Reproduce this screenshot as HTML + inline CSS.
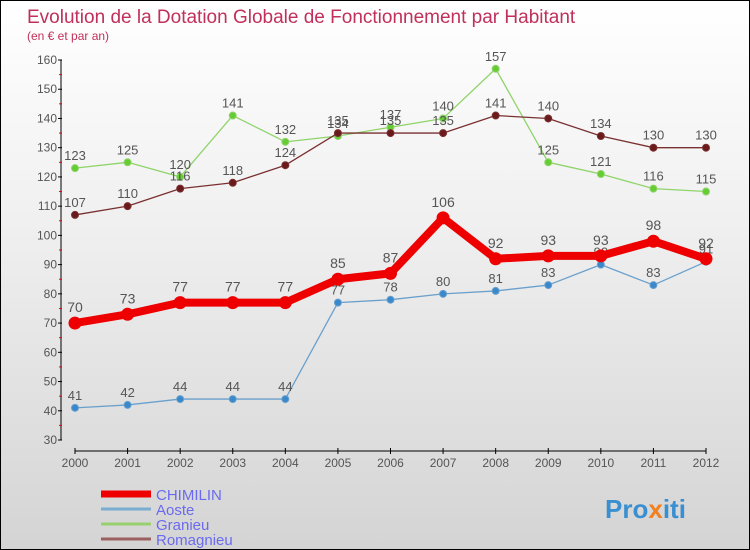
<!DOCTYPE html>
<html><head><meta charset="utf-8"><style>
html,body{margin:0;padding:0}
body{width:750px;height:550px;overflow:hidden;font-family:"Liberation Sans",sans-serif}
#wrap{position:relative;width:748px;height:548px;border:1px solid #000;background:linear-gradient(#ffffff 0%,#f0f0f0 40%,#d4d4d4 100%)}
</style></head><body>
<div id="wrap">
<svg id="chart" width="748" height="548" style="position:absolute;left:0;top:0">
<text x="26" y="22" font-size="19" fill="#c0305a">Evolution de la Dotation Globale de Fonctionnement par Habitant</text>
<text x="26" y="39" font-size="12" fill="#c0305a">(en € et par an)</text>
<text x="604" y="517" font-size="26" font-weight="bold" fill="#3a8fd0">Pro<tspan fill="#f08020">x</tspan><tspan fill="#3a8fd0">iti</tspan></text>
</svg>
</div>
<script>
const years=["2000","2001","2002","2003","2004","2005","2006","2007","2008","2009","2010","2011","2012"];
const yTicks=[30,40,50,60,70,80,90,100,110,120,130,140,150,160];
const chimilin=[70,73,77,77,77,85,87,106,92,93,93,98,92];
const aoste=[41,42,44,44,44,77,78,80,81,83,90,83,91];
const granieu=[123,125,120,141,132,134,137,140,157,125,121,116,115];
const romagnieu=[107,110,116,118,124,135,135,135,141,140,134,130,130];
const seriesNames=["CHIMILIN","Aoste","Granieu","Romagnieu"];

const svg=document.getElementById('chart');
const NS='http://www.w3.org/2000/svg';
function mk(t,a){const e=document.createElementNS(NS,t);for(const k in a)e.setAttribute(k,a[k]);return e;}
const x0=74,x1=705,yMin=30,yMax=160,py0=439,py1=59;
const xs=i=>x0+i*(x1-x0)/(years.length-1);
const ys=v=>py0-(v-yMin)*(py0-py1)/(yMax-yMin);

const ya=mk('line',{x1:60,y1:py1,x2:60,y2:py0,stroke:'#000'});


svg.appendChild(ya);
yTicks.forEach((v,i)=>{
  const t=mk('line',{x1:57,y1:ys(v),x2:61,y2:ys(v),stroke:'#000'});
  
  
  svg.appendChild(t);
  const l=mk('text',{x:56,y:ys(v)+4,'font-size':12,fill:'#555','text-anchor':'end'});
  l.textContent=v;
  
  
  svg.appendChild(l);
  if(i<yTicks.length-1){
    const m=mk('line',{x1:58,y1:ys(v+5),x2:61,y2:ys(v+5),stroke:'#e00'});
    
    
    svg.appendChild(m);
  }
});
const xa=mk('line',{x1:xs(0),y1:450,x2:xs(years.length-1),y2:450,stroke:'#000'});


svg.appendChild(xa);
years.forEach((y,i)=>{
  const t=mk('line',{x1:xs(i),y1:447,x2:xs(i),y2:453,stroke:'#000'});
  
  
  svg.appendChild(t);
  const l=mk('text',{x:xs(i),y:466,'font-size':12,fill:'#555','text-anchor':'middle'});
  l.textContent=y;
  
  
  svg.appendChild(l);
});

function drawSeries(data,color,width,dotFill,r,name,fs){
  const pts=data.map((v,i)=>xs(i)+','+ys(v)).join(' ');
  const pl=mk('polyline',{points:pts,fill:'none',stroke:color,'stroke-width':width,'stroke-linejoin':'round'});
  
  
  svg.appendChild(pl);
  data.forEach((v,i)=>{
    const c=mk('circle',{cx:xs(i),cy:ys(v),r:r,fill:dotFill,stroke:color,'stroke-width':1});
    
    
    svg.appendChild(c);
    const l=mk('text',{x:xs(i),y:ys(v)-(fs>13?11:8),'font-size':fs,fill:'#555','text-anchor':'middle'});
    l.textContent=v;
    
    
    svg.appendChild(l);
  });
}
drawSeries(granieu,'#8fd46a',1.3,'#66cc33',3.5,'granieu',13);
drawSeries(romagnieu,'#7a3030',1.3,'#6a1a1a',3.5,'romagnieu',13);
drawSeries(aoste,'#6aa0cc',1.3,'#3a88cc',3.5,'aoste',13);
drawSeries(chimilin,'#ee0000',8,'#ee0000',6,'chimilin',14);

const lcol=['#ee0000','#7aaed0','#98d070','#9a6060'];
const lw=[7,3,3,3];
seriesNames.forEach((n,i)=>{
  const y=493+i*15;
  const ln=mk('line',{x1:100,y1:y,x2:150,y2:y,stroke:lcol[i],'stroke-width':lw[i]});
  
  
  svg.appendChild(ln);
  const t=mk('text',{x:155,y:y+6,'font-size':15,fill:'#6a6af0'});
  t.textContent=n;
  
  
  svg.appendChild(t);
});
</script>
</body></html>
